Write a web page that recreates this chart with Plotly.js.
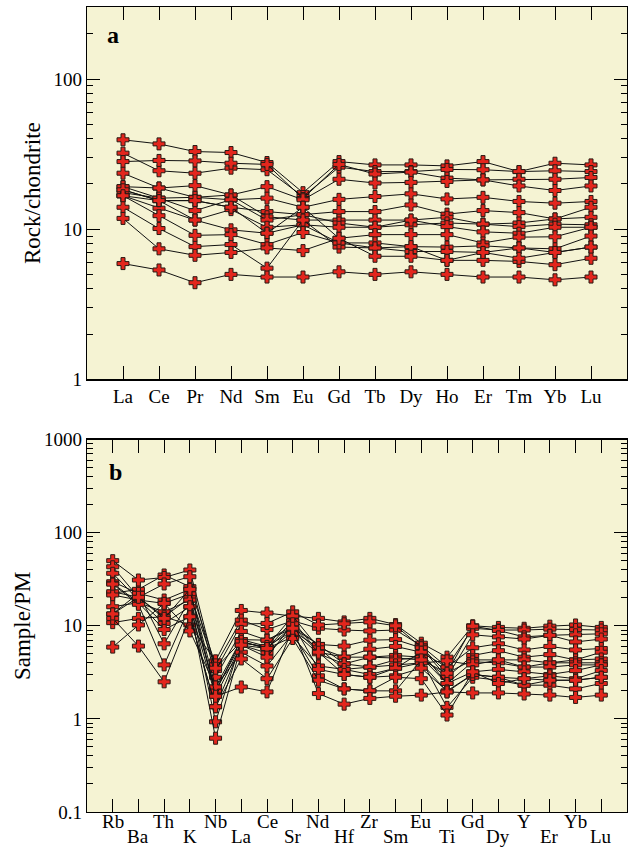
<!DOCTYPE html>
<html>
<head>
<meta charset="utf-8">
<script src="https://cdn.plot.ly/plotly-3.0.1.min.js"></script>
<style>html,body{margin:0;padding:0;background:#fff;}#chart{width:634px;height:847px;}</style>
</head>
<body>
<div id="chart"></div>
<script>
// ---- Panel a: chondrite-normalised REE ----
const reeLabels = ['La','Ce','Pr','Nd','Sm','Eu','Gd','Tb','Dy','Ho','Er','Tm','Yb','Lu'];
const reeS01 = [39.4, 37.0, 32.9, 32.4, 27.8, 17.5, 28.2, 26.8, 26.8, 26.4, 28.2, 24.2, 27.5, 26.8];
const reeS02 = [32.1, 24.5, 23.6, 25.5, 24.9, 16.5, 25.9, 24.2, 24.2, 25.0, 24.9, 24.2, 24.5, 24.2];
const reeS03 = [28.2, 28.7, 28.5, 27.5, 27.0, 16.0, 27.0, 23.3, 24.0, 21.9, 21.3, 21.5, 21.5, 22.1];
const reeS04 = [23.6, 18.8, 19.5, 16.9, 19.2, 15.7, 21.5, 20.3, 20.5, 20.8, 21.3, 19.4, 18.1, 19.4];
const reeS05 = [19.2, 16.1, 16.3, 15.7, 16.1, 14.0, 15.8, 16.5, 17.2, 15.9, 16.3, 15.3, 14.9, 15.3];
const reeS06 = [18.3, 15.5, 15.5, 14.0, 13.1, 12.5, 13.1, 13.1, 14.5, 12.6, 13.3, 12.9, 11.7, 14.0];
const reeS07 = [19.2, 18.8, 16.3, 16.9, 12.1, 11.5, 11.5, 11.5, 11.5, 12.0, 10.8, 11.0, 11.7, 12.0];
const reeS08 = [17.5, 16.1, 13.3, 15.7, 11.5, 12.5, 11.0, 10.3, 10.7, 11.0, 10.8, 10.4, 10.8, 10.7];
const reeS09 = [16.7, 13.8, 11.5, 13.5, 10.3, 10.7, 10.3, 10.3, 11.5, 10.4, 9.6, 9.4, 10.3, 10.3];
const reeS10 = [16.7, 15.5, 15.5, 14.0, 9.4, 14.0, 8.7, 9.2, 9.2, 9.2, 8.1, 8.85, 8.9, 10.3];
const reeS11 = [18.3, 15.5, 11.5, 9.9, 9.4, 10.7, 8.1, 8.1, 7.65, 7.6, 7.75, 7.5, 7.4, 9.0];
const reeS12 = [14.0, 10.1, 7.65, 7.9, 5.5, 11.5, 7.6, 7.5, 7.1, 7.1, 7.0, 7.5, 7.0, 7.6];
const reeS13 = [16.7, 12.3, 9.1, 9.2, 7.9, 9.5, 8.1, 7.5, 7.65, 6.2, 6.2, 6.1, 5.8, 6.4];
const reeS14 = [11.8, 7.4, 6.7, 7.0, 7.5, 7.2, 8.7, 6.6, 6.6, 6.2, 7.0, 6.4, 7.0, 7.6];
const reeS15 = [5.9, 5.35, 4.4, 5.0, 4.8, 4.8, 5.2, 5.0, 5.2, 5.0, 4.8, 4.8, 4.6, 4.8];

// ---- Panel b: primitive-mantle-normalised spider diagram ----
const spiderLabels = ['Rb','Ba','Th','K','Nb','La','Ce','Sr','Nd','Hf','Zr','Sm','Eu','Ti','Gd','Dy','Y','Er','Yb','Lu'];
const pmS01 = [10.8, 12.0, 12.5, 10.2, 4.2, 14.6, 13.7, 12.7, 12.0, 11.0, 12.0, 10.3, 6.5, 4.6, 10.0, 9.6, 9.4, 9.9, 10.2, 9.6];
const pmS02 = [22.3, 24.6, 35.1, 26.3, 3.8, 11.5, 9.1, 11.3, 9.4, 9.0, 8.8, 9.0, 6.1, 3.6, 9.4, 9.0, 9.0, 9.2, 9.1, 9.0];
const pmS03 = [50.0, 31.0, 33.0, 39.7, 3.3, 10.4, 10.6, 14.1, 10.2, 10.5, 11.0, 10.0, 5.9, 3.1, 9.9, 8.9, 7.6, 7.9, 8.0, 8.2];
const pmS04 = [43.0, 20.2, 28.1, 33.6, 2.8, 8.7, 7.0, 9.9, 6.3, 6.05, 7.0, 7.1, 5.8, 2.8, 8.0, 7.6, 7.2, 7.9, 6.7, 7.2];
const pmS05 = [29.7, 22.3, 18.9, 24.6, 2.2, 7.1, 6.0, 8.8, 5.8, 4.6, 5.6, 6.0, 5.2, 3.6, 5.8, 6.4, 5.5, 6.0, 5.5, 5.7];
const pmS06 = [36.6, 18.9, 17.4, 22.0, 3.5, 6.8, 5.7, 11.3, 5.2, 4.6, 4.6, 4.8, 4.6, 2.8, 4.8, 5.4, 4.6, 4.9, 4.3, 5.2];
const pmS07 = [28.6, 17.7, 14.1, 18.9, 1.95, 7.1, 7.0, 9.4, 6.3, 3.9, 4.6, 4.5, 4.3, 3.1, 4.3, 4.3, 4.3, 4.0, 4.3, 4.4];
const pmS08 = [23.2, 20.2, 12.5, 20.0, 2.0, 6.5, 6.0, 12.7, 5.8, 3.4, 3.6, 4.3, 4.6, 2.4, 4.1, 4.0, 3.6, 4.0, 4.0, 4.0];
const pmS09 = [21.4, 18.9, 10.6, 16.0, 1.75, 6.2, 5.1, 8.8, 5.0, 3.9, 3.6, 3.8, 4.0, 4.2, 3.8, 4.3, 3.6, 3.6, 3.8, 3.8];
const pmS10 = [16.0, 17.7, 9.1, 12.5, 1.35, 6.2, 5.7, 9.9, 5.2, 3.0, 2.8, 3.5, 5.2, 2.4, 3.2, 3.4, 3.2, 3.0, 3.3, 3.8];
const pmS11 = [13.4, 22.3, 6.4, 18.9, 0.93, 6.8, 5.7, 7.6, 3.7, 3.4, 3.0, 3.5, 4.0, 1.95, 3.0, 2.8, 2.7, 2.9, 2.7, 3.3];
const pmS12 = [5.9, 10.2, 17.4, 8.8, 2.2, 5.2, 3.7, 8.3, 2.9, 2.1, 2.0, 2.0, 4.3, 1.33, 2.8, 2.6, 2.3, 2.6, 2.6, 2.8];
const pmS13 = [28.0, 17.0, 3.8, 16.0, 0.62, 6.2, 4.6, 10.5, 3.4, 3.0, 2.8, 2.9, 3.5, 2.0, 3.0, 2.8, 2.3, 2.3, 2.1, 2.4];
const pmS14 = [12.0, 6.05, 2.5, 12.5, 1.35, 4.4, 2.7, 7.3, 2.6, 2.1, 2.0, 2.8, 2.7, 1.1, 3.2, 2.4, 2.7, 2.6, 2.6, 2.8];
const pmS15 = [13.4, 20.2, 12.0, 24.6, 1.75, 2.2, 1.95, 9.4, 1.87, 1.44, 1.66, 1.75, 1.8, 1.95, 1.9, 1.9, 1.85, 1.8, 1.7, 1.8];

const reeSeries = [reeS01, reeS02, reeS03, reeS04, reeS05, reeS06, reeS07, reeS08, reeS09, reeS10, reeS11, reeS12, reeS13, reeS14, reeS15];
const pmSeries = [pmS01, pmS02, pmS03, pmS04, pmS05, pmS06, pmS07, pmS08, pmS09, pmS10, pmS11, pmS12, pmS13, pmS14, pmS15];

const serif = 'Liberation Serif';
const markerStyle = {symbol: 'cross', size: 10, color: '#e3261d', line: {color: '#2a1a14', width: 1}};
const lineStyle = {color: '#111', width: 1};

const traces = [];
reeSeries.forEach((ys, i) => traces.push({
  type: 'scatter', mode: 'lines+markers', x: reeLabels, y: ys,
  xaxis: 'x', yaxis: 'y', line: lineStyle, marker: markerStyle, name: 'S' + (i + 1), hoverinfo: 'skip'
}));
pmSeries.forEach((ys, i) => traces.push({
  type: 'scatter', mode: 'lines+markers', x: spiderLabels, y: ys,
  xaxis: 'x2', yaxis: 'y2', line: lineStyle, marker: markerStyle, name: 'S' + (i + 1), hoverinfo: 'skip'
}));

function minorVals(lo, hi) {
  const v = [];
  for (let e = lo; e < hi; e++) for (let d = 2; d <= 9; d++) v.push(d * Math.pow(10, e));
  return v;
}

const axisCommon = {
  showline: true, linecolor: '#000', linewidth: 1.3, mirror: 'allticks',
  ticks: 'inside', ticklen: 13, tickwidth: 1, tickcolor: '#000',
  showgrid: false, zeroline: false,
  tickfont: {family: serif, size: 19, color: '#000'}
};

const annotations = [
  {text: '<b>a</b>', xref: 'x domain', yref: 'y domain', x: 0.048, y: 0.925, xanchor: 'center', yanchor: 'middle', showarrow: false, font: {family: serif, size: 24, color: '#000'}},
  {text: '<b>b</b>', xref: 'x2 domain', yref: 'y2 domain', x: 0.052, y: 0.912, xanchor: 'center', yanchor: 'middle', showarrow: false, font: {family: serif, size: 24, color: '#000'}}
];
spiderLabels.forEach((lab, i) => annotations.push({
  text: lab, xref: 'x2', yref: 'paper', x: lab, y: (i % 2 === 0) ? -0.0115 : -0.0305,
  xanchor: 'center', yanchor: 'middle', showarrow: false,
  font: {family: serif, size: 19, color: '#000'}
}));

const layout = {
  width: 634, height: 847,
  paper_bgcolor: '#ffffff', plot_bgcolor: '#f5f3d3',
  margin: {l: 87, r: 7, t: 7, b: 35},
  showlegend: false,
  xaxis: Object.assign({}, axisCommon, {
    domain: [0, 1], anchor: 'y', type: 'category', range: [-1, 14],
    tickmode: 'linear', tick0: 0, dtick: 1
  }),
  yaxis: Object.assign({}, axisCommon, {
    domain: [0.5375, 1], anchor: 'x', type: 'log', range: [0, 2.48],
    tickmode: 'array', tickvals: [1, 10, 100], ticktext: ['1', '10', '100'],
    minor: {tickmode: 'array', tickvals: minorVals(0, 3), ticks: 'inside', ticklen: 6, tickcolor: '#000', showgrid: false},
    title: {text: 'Rock/chondrite', font: {family: serif, size: 23, color: '#000'}, standoff: 6}
  }),
  xaxis2: Object.assign({}, axisCommon, {
    domain: [0, 1], anchor: 'y2', type: 'category', range: [-1, 20],
    tickmode: 'linear', tick0: 0, dtick: 1, showticklabels: false
  }),
  yaxis2: Object.assign({}, axisCommon, {
    domain: [0, 0.4627], anchor: 'x2', type: 'log', range: [-1, 3],
    tickmode: 'array', tickvals: [0.1, 1, 10, 100, 1000], ticktext: ['0.1', '1', '10', '100', '1000'],
    minor: {tickmode: 'array', tickvals: minorVals(-1, 3), ticks: 'inside', ticklen: 6, tickcolor: '#000', showgrid: false},
    title: {text: 'Sample/PM', font: {family: serif, size: 23, color: '#000'}, standoff: 6}
  }),
  annotations: annotations
};

Plotly.newPlot('chart', traces, layout, {displayModeBar: false, staticPlot: true});
</script>
</body>
</html>
